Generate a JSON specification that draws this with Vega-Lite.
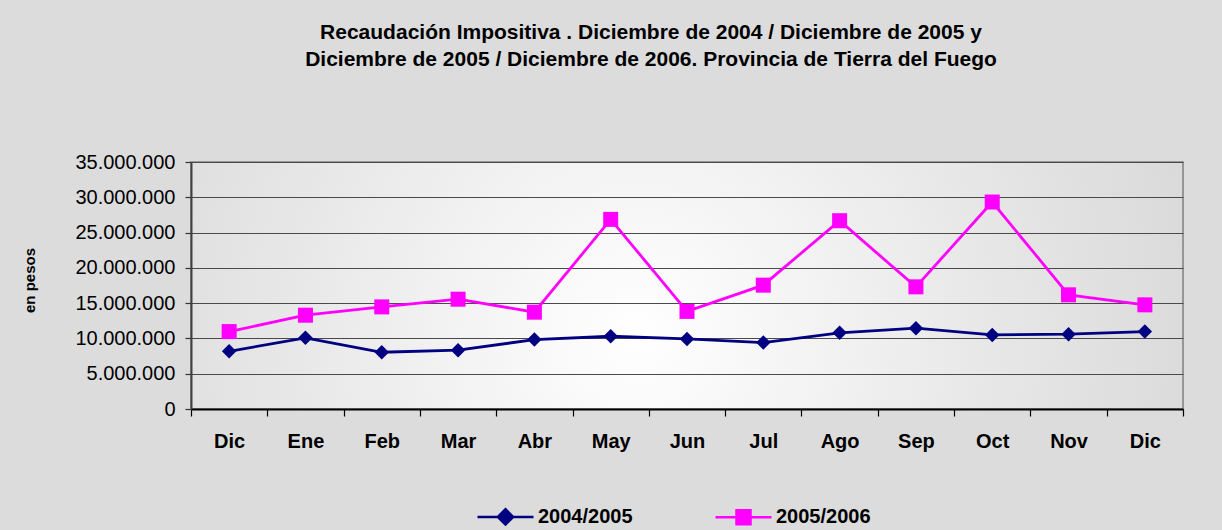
{
  "$schema": "https://vega.github.io/schema/vega-lite/v6.json",
  "autosize": {"type": "none"},
  "width": 992,
  "height": 247,
  "padding": {"left": 191, "top": 162, "right": 39, "bottom": 121},
  "background": "#dcdcdc",
  "title": {
    "text": ["Recaudación Impositiva . Diciembre de 2004 / Diciembre de 2005 y", "Diciembre de 2005 / Diciembre de 2006. Provincia de Tierra del Fuego"],
    "font": "Liberation Sans",
    "fontSize": 21,
    "fontWeight": "bold",
    "color": "#000000",
    "anchor": "middle",
    "dx": -36,
    "offset": 82,
    "lineHeight": 27
  },
  "config": {
    "locale": {"number": {"decimal": ",", "thousands": ".", "grouping": [3], "currency": ["$", ""]}},
    "view": {
      "stroke": "#808080",
      "strokeWidth": 1.5,
      "fill": {
        "gradient": "radial",
        "x1": 0.45, "y1": 0.55, "r1": 0,
        "x2": 0.45, "y2": 0.55, "r2": 0.75,
        "stops": [
          {"offset": 0, "color": "#ffffff"},
          {"offset": 0.5, "color": "#e6e6e6"},
          {"offset": 1, "color": "#cfcfcf"}
        ]
      }
    }
  },
  "data": {
    "values": [
      {"mes": "Dic-1", "serie": "2004/2005", "valor": 8180000},
      {"mes": "Ene", "serie": "2004/2005", "valor": 10080000},
      {"mes": "Feb", "serie": "2004/2005", "valor": 8040000},
      {"mes": "Mar", "serie": "2004/2005", "valor": 8330000},
      {"mes": "Abr", "serie": "2004/2005", "valor": 9840000},
      {"mes": "May", "serie": "2004/2005", "valor": 10310000},
      {"mes": "Jun", "serie": "2004/2005", "valor": 9930000},
      {"mes": "Jul", "serie": "2004/2005", "valor": 9410000},
      {"mes": "Ago", "serie": "2004/2005", "valor": 10790000},
      {"mes": "Sep", "serie": "2004/2005", "valor": 11450000},
      {"mes": "Oct", "serie": "2004/2005", "valor": 10500000},
      {"mes": "Nov", "serie": "2004/2005", "valor": 10600000},
      {"mes": "Dic-2", "serie": "2004/2005", "valor": 10970000},
      {"mes": "Dic-1", "serie": "2005/2006", "valor": 10970000},
      {"mes": "Ene", "serie": "2005/2006", "valor": 13290000},
      {"mes": "Feb", "serie": "2005/2006", "valor": 14470000},
      {"mes": "Mar", "serie": "2005/2006", "valor": 15560000},
      {"mes": "Abr", "serie": "2005/2006", "valor": 13720000},
      {"mes": "May", "serie": "2005/2006", "valor": 26870000},
      {"mes": "Jun", "serie": "2005/2006", "valor": 13830000},
      {"mes": "Jul", "serie": "2005/2006", "valor": 17550000},
      {"mes": "Ago", "serie": "2005/2006", "valor": 26680000},
      {"mes": "Sep", "serie": "2005/2006", "valor": 17310000},
      {"mes": "Oct", "serie": "2005/2006", "valor": 29330000},
      {"mes": "Nov", "serie": "2005/2006", "valor": 16180000},
      {"mes": "Dic-2", "serie": "2005/2006", "valor": 14760000}
    ]
  },
  "encoding": {
    "x": {
      "field": "mes",
      "type": "ordinal",
      "sort": ["Dic-1", "Ene", "Feb", "Mar", "Abr", "May", "Jun", "Jul", "Ago", "Sep", "Oct", "Nov", "Dic-2"],
      "scale": {"type": "band", "paddingInner": 0, "paddingOuter": 0},
      "axis": {
        "title": null,
        "labelExpr": "isString(datum.value) ? split(datum.value, '-')[0] : ''",
        "labelAngle": 0,
        "labelFont": "Liberation Sans",
        "labelFontSize": 20,
        "labelFontWeight": "bold",
        "labelColor": "#000000",
        "labelPadding": 15,
        "tickBand": "extent",
        "tickSize": 7,
        "tickColor": "#000000",
        "tickWidth": 1.2,
        "domainColor": "#000000",
        "domainWidth": 2,
        "grid": false
      }
    },
    "y": {
      "field": "valor",
      "type": "quantitative",
      "scale": {"domain": [0, 35000000], "nice": false},
      "axis": {
        "values": [0, 5000000, 10000000, 15000000, 20000000, 25000000, 30000000, 35000000],
        "format": ",d",
        "labelFont": "Liberation Sans",
        "labelFontSize": 20,
        "labelColor": "#000000",
        "labelPadding": 10,
        "tickSize": 6,
        "tickColor": "#333333",
        "tickWidth": 1.2,
        "domainColor": "#404040",
        "domainWidth": 2,
        "grid": true,
        "gridColor": "#4a4a4a",
        "gridWidth": 1.2,
        "title": "en pesos",
        "titleFont": "Liberation Sans",
        "titleFontSize": 15,
        "titleFontWeight": "bold",
        "titleColor": "#000000",
        "titleAngle": -90,
        "titleAlign": "center",
        "titleBaseline": "middle",
        "titleX": -162,
        "titleY": 118
      }
    }
  },
  "layer": [
    {
      "mark": {"type": "line", "strokeWidth": 2.8},
      "encoding": {
        "color": {
          "field": "serie",
          "type": "nominal",
          "scale": {"domain": ["2004/2005", "2005/2006"], "range": ["#000080", "#ff00ff"]},
          "legend": {
            "orient": "none",
            "legendX": 299,
            "legendY": 339,
            "direction": "horizontal",
            "title": null,
            "padding": 0,
            "symbolSize": 784,
            "symbolStrokeWidth": 2.5,
            "labelOffset": 17,
            "columnPadding": 77,
            "labelFont": "Liberation Sans",
            "labelFontSize": 20,
            "labelFontWeight": "bold",
            "labelColor": "#000000",
            "encode": {
              "symbols": {
                "update": {
                  "shape": {"signal": "datum.value == '2004/2005' ? 'M-2,0H2M0,-0.55L0.55,0L0,0.55L-0.55,0Z' : 'M-2,0H2M-0.5,-0.5H0.5V0.5H-0.5Z'"},
                  "fill": {"signal": "datum.value == '2004/2005' ? '#000080' : '#ff00ff'"},
                  "stroke": {"signal": "datum.value == '2004/2005' ? '#000080' : '#ff00ff'"},
                  "strokeWidth": {"value": 2.5},
                  "opacity": {"value": 1}
                }
              }
            }
          }
        }
      }
    },
    {
      "transform": [{"filter": "datum.serie == '2004/2005'"}],
      "mark": {"type": "point", "shape": "diamond", "filled": true, "opacity": 1, "size": 210, "color": "#000080"}
    },
    {
      "transform": [{"filter": "datum.serie == '2005/2006'"}],
      "mark": {"type": "point", "shape": "square", "filled": true, "opacity": 1, "size": 225, "color": "#ff00ff"}
    }
  ]
}
